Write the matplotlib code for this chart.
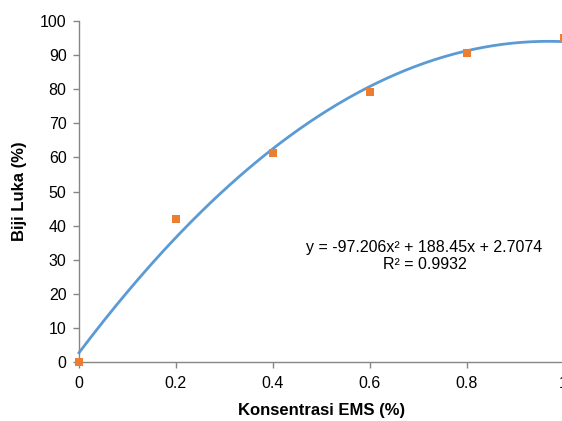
import numpy as np
import matplotlib
matplotlib.use("Agg")
import matplotlib.pyplot as plt

plt.rcParams['font.family'] = ['Liberation Sans', 'DejaVu Sans']

x_vals = [0, 0.2, 0.4, 0.6, 0.8, 1.0]
y_vals = [0, 42, 61.3, 79.2, 90.5, 95]
coef = [-97.206, 188.45, 2.7074]
x_ticks = [0, 0.2, 0.4, 0.6, 0.8, 1]
x_ticklabels = ['0', '0.2', '0.4', '0.6', '0.8', '1']
y_ticks = list(range(0, 101, 10))

W, H = 562, 421
fig = plt.figure(figsize=(W/100, H/100), dpi=100)
left, right, bottom, top = 79, 563.5, 362, 21
aw, ah = right-left, bottom-top
ax = fig.add_axes([left/W, (H-bottom)/H, aw/W, ah/H])

xs = np.linspace(0, 1, 200)
ax.plot(xs, np.polyval(coef, xs), color='#5B9BD5', lw=2.0, zorder=2, clip_on=False)
ax.scatter(x_vals, y_vals, marker='s', s=38, color='#ED7D31', zorder=3, clip_on=False, linewidths=0)

ax.set_xlim(0, 1)
ax.set_ylim(0, 100)
ax.set_xticks(x_ticks)
ax.set_xticklabels(x_ticklabels)
ax.set_yticks(y_ticks)
for s in ['top', 'right']:
    ax.spines[s].set_visible(False)
for s in ['left', 'bottom']:
    ax.spines[s].set_color('#868686')
    ax.spines[s].set_linewidth(1.0)
ax.tick_params(axis='both', direction='out', length=4, width=1, color='#868686',
               labelsize=11.5, labelcolor='black')
ax.tick_params(axis='y', pad=5)
ax.tick_params(axis='x', pad=6)

ax.set_xlabel('Konsentrasi EMS (%)', fontsize=12, fontweight='bold')
ax.set_ylabel('Biji Luka (%)', fontsize=12, fontweight='bold')
ax.xaxis.set_label_coords(0.5, -(411-bottom)/ah)
ax.xaxis.label.set_va('center')
ax.yaxis.set_label_coords(-(left-20)/aw, 0.5)
ax.yaxis.label.set_va('center')

ax.text(0.713, 31.0, 'y = -97.206x² + 188.45x + 2.7074\nR² = 0.9932', ha='center', va='center',
        fontsize=11.5, linespacing=1.2, transform=ax.transData)

fig.savefig('out.png', dpi=100)
